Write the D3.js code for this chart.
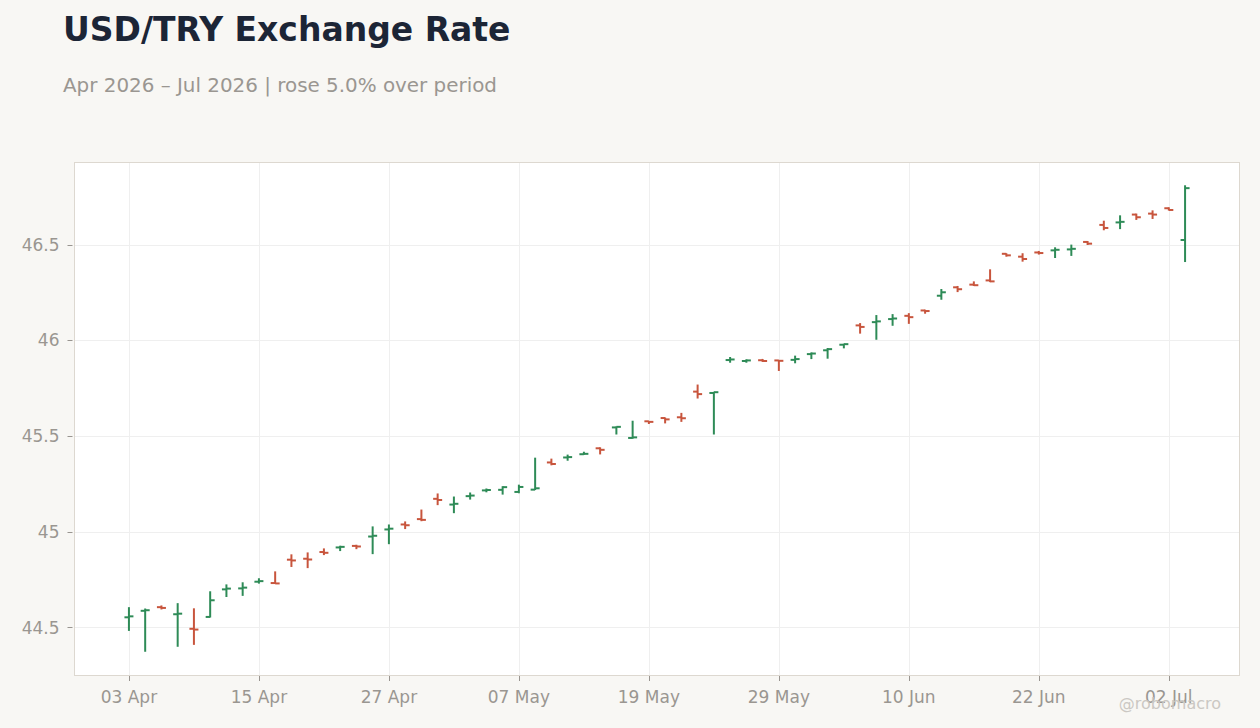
<!DOCTYPE html>
<html>
<head>
<meta charset="utf-8">
<script src="https://cdn.jsdelivr.net/npm/d3@7"></script>
<style>
  body { margin: 0; background: #f8f7f4; }
  svg { display: block; font-family: "DejaVu Sans", sans-serif; }
</style>
</head>
<body>
<svg id="chart"></svg>
<script>
var width = 1260
var height = 728

var dates = [
  "2026-04-03", "2026-04-06", "2026-04-07", "2026-04-08", "2026-04-09", "2026-04-10",
  "2026-04-13", "2026-04-14", "2026-04-15", "2026-04-16", "2026-04-17",
  "2026-04-20", "2026-04-21", "2026-04-22", "2026-04-23", "2026-04-24",
  "2026-04-27", "2026-04-28", "2026-04-29", "2026-04-30", "2026-05-01",
  "2026-05-04", "2026-05-05", "2026-05-06", "2026-05-07", "2026-05-08",
  "2026-05-11", "2026-05-12", "2026-05-13", "2026-05-14", "2026-05-15",
  "2026-05-18", "2026-05-19", "2026-05-20", "2026-05-21", "2026-05-22",
  "2026-05-25", "2026-05-26", "2026-05-27", "2026-05-28", "2026-05-29",
  "2026-06-01", "2026-06-02", "2026-06-03", "2026-06-04", "2026-06-05",
  "2026-06-08", "2026-06-09", "2026-06-10", "2026-06-11", "2026-06-12",
  "2026-06-15", "2026-06-16", "2026-06-17", "2026-06-18", "2026-06-19",
  "2026-06-22", "2026-06-23", "2026-06-24", "2026-06-25", "2026-06-26",
  "2026-06-29", "2026-06-30", "2026-07-01", "2026-07-02", "2026-07-03"
]

var opens = [
  44.553, 44.587, 44.606, 44.569, 44.493, 44.555, 44.699, 44.704, 44.739, 44.732, 44.854,
  44.859, 44.894, 44.918, 44.926, 44.975, 45.012, 45.038, 45.066, 45.172, 45.142,
  45.186, 45.216, 45.219, 45.208, 45.220, 45.362, 45.388, 45.405, 45.436, 45.545,
  45.490, 45.577, 45.594, 45.598, 45.732, 45.725, 45.897, 45.892, 45.896, 45.895,
  45.898, 45.928, 45.948, 45.977, 46.078, 46.095, 46.111, 46.128, 46.156, 46.233,
  46.277, 46.291, 46.313, 46.452, 46.437, 46.459, 46.470, 46.475, 46.514, 46.603,
  46.616, 46.657, 46.662, 46.690, 46.524
]
var highs = [
  44.606, 44.599, 44.615, 44.627, 44.600, 44.689, 44.725, 44.736, 44.757, 44.793, 44.882,
  44.892, 44.913, 44.927, 44.932, 45.028, 45.038, 45.054, 45.116, 45.200, 45.184,
  45.205, 45.226, 45.238, 45.246, 45.387, 45.382, 45.403, 45.418, 45.441, 45.550,
  45.580, 45.578, 45.597, 45.621, 45.769, 45.731, 45.913, 45.901, 45.903, 45.897,
  45.920, 45.937, 45.960, 45.982, 46.090, 46.132, 46.137, 46.142, 46.160, 46.268,
  46.284, 46.308, 46.371, 46.455, 46.455, 46.467, 46.486, 46.500, 46.519, 46.625,
  46.653, 46.662, 46.679, 46.695, 46.810
]
var lows = [
  44.482, 44.373, 44.594, 44.399, 44.409, 44.552, 44.659, 44.665, 44.729, 44.728, 44.816,
  44.810, 44.878, 44.899, 44.909, 44.883, 44.935, 45.014, 45.055, 45.139, 45.097,
  45.168, 45.206, 45.194, 45.201, 45.218, 45.347, 45.371, 45.402, 45.404, 45.508,
  45.486, 45.563, 45.566, 45.574, 45.696, 45.508, 45.883, 45.883, 45.887, 45.840,
  45.880, 45.902, 45.904, 45.958, 46.035, 46.003, 46.076, 46.086, 46.139, 46.212,
  46.252, 46.284, 46.304, 46.437, 46.411, 46.448, 46.430, 46.441, 46.498, 46.575,
  46.581, 46.629, 46.634, 46.678, 46.409
]
var closes = [
  44.558, 44.590, 44.602, 44.572, 44.489, 44.642, 44.703, 44.708, 44.742, 44.730, 44.850,
  44.855, 44.890, 44.921, 44.923, 44.979, 45.016, 45.034, 45.062, 45.166, 45.146,
  45.189, 45.218, 45.233, 45.234, 45.227, 45.354, 45.390, 45.407, 45.428, 45.548,
  45.493, 45.574, 45.587, 45.593, 45.719, 45.729, 45.900, 45.895, 45.892, 45.893,
  45.902, 45.931, 45.954, 45.980, 46.070, 46.099, 46.114, 46.121, 46.153, 46.251,
  46.267, 46.288, 46.308, 46.444, 46.425, 46.456, 46.473, 46.478, 46.505, 46.587,
  46.619, 46.643, 46.657, 46.681, 46.795
]

var yTicks = [44.5, 45, 45.5, 46, 46.5]
var xTickIdx = [0, 8, 16, 24, 32, 40, 48, 56, 64]

var upColor = "#2e8b57"
var downColor = "#c8553d"

var parse = d3.timeParse("%Y-%m-%d")
var fmt = d3.timeFormat("%d %b")

var bars = dates.map(function(d, i) {
  return {date: parse(d), i: i, o: opens[i], h: highs[i], l: lows[i], c: closes[i]}
})

var plotLeft = 74.5, plotRight = 1239.5, plotTop = 162.5, plotBottom = 675.5

var x = d3.scaleLinear()
  .domain([-3.35, bars.length - 1 + 3.35])
  .range([plotLeft, plotRight])

var y = d3.scaleLinear()
  .domain([44.249, 46.929])
  .range([plotBottom, plotTop])

var svg = d3.select("#chart")
  .attr("width", width)
  .attr("height", height)

svg.append("rect")
  .attr("width", width)
  .attr("height", height)
  .attr("fill", "#f8f7f4")

svg.append("text")
  .attr("x", 63)
  .attr("y", 40.5)
  .attr("fill", "#1c2536")
  .attr("font-size", 33)
  .attr("font-weight", "bold")
  .text("USD/TRY Exchange Rate")

svg.append("text")
  .attr("x", 63)
  .attr("y", 91.5)
  .attr("fill", "#9a9691")
  .attr("font-size", 19.9)
  .text("Apr 2026 \u2013 Jul 2026 | rose 5.0% over period")

svg.append("rect")
  .attr("x", plotLeft)
  .attr("y", plotTop)
  .attr("width", plotRight - plotLeft)
  .attr("height", plotBottom - plotTop)
  .attr("fill", "#ffffff")

// grid
svg.append("g")
  .selectAll("line")
  .data(yTicks)
  .join("line")
  .attr("x1", plotLeft)
  .attr("x2", plotRight)
  .attr("y1", function(d) { return Math.round(y(d)) + 0.5 })
  .attr("y2", function(d) { return Math.round(y(d)) + 0.5 })
  .attr("stroke", "#efefef")

svg.append("g")
  .selectAll("line")
  .data(xTickIdx)
  .join("line")
  .attr("x1", function(d) { return Math.round(x(d)) + 0.5 })
  .attr("x2", function(d) { return Math.round(x(d)) + 0.5 })
  .attr("y1", plotTop)
  .attr("y2", plotBottom)
  .attr("stroke", "#efefef")

svg.append("rect")
  .attr("x", plotLeft)
  .attr("y", plotTop)
  .attr("width", plotRight - plotLeft)
  .attr("height", plotBottom - plotTop)
  .attr("fill", "none")
  .attr("stroke", "#ddd8d0")

// axes
var yAxis = svg.append("g")
yAxis.selectAll("line")
  .data(yTicks)
  .join("line")
  .attr("x1", 67.5)
  .attr("x2", 72.5)
  .attr("y1", function(d) { return Math.round(y(d)) + 0.5 })
  .attr("y2", function(d) { return Math.round(y(d)) + 0.5 })
  .attr("stroke", "#999590")
yAxis.selectAll("text")
  .data(yTicks)
  .join("text")
  .attr("x", 59.5)
  .attr("y", function(d) { return y(d) })
  .attr("dy", "0.36em")
  .attr("text-anchor", "end")
  .attr("fill", "#9a9691")
  .attr("font-size", 17)
  .text(function(d) { return String(d) })

var xAxis = svg.append("g")
xAxis.selectAll("line")
  .data(xTickIdx)
  .join("line")
  .attr("x1", function(d) { return Math.round(x(d)) + 0.5 })
  .attr("x2", function(d) { return Math.round(x(d)) + 0.5 })
  .attr("y1", plotBottom + 0.5)
  .attr("y2", plotBottom + 5.5)
  .attr("stroke", "#999590")
xAxis.selectAll("text")
  .data(xTickIdx)
  .join("text")
  .attr("x", function(d) { return x(d) })
  .attr("y", 702.5)
  .attr("text-anchor", "middle")
  .attr("fill", "#9a9691")
  .attr("font-size", 17)
  .text(function(d) { return fmt(bars[d].date) })

// ohlc bars
var tick = 3.5
var g = svg.append("g")
  .attr("stroke-width", 2)

var bar = g.selectAll("g")
  .data(bars)
  .join("g")
  .attr("stroke", function(d) { return d.c >= d.o ? upColor : downColor })

bar.append("line")
  .attr("x1", function(d) { return x(d.i) })
  .attr("x2", function(d) { return x(d.i) })
  .attr("y1", function(d) { return y(d.h) })
  .attr("y2", function(d) { return y(d.l) })

bar.append("line")
  .attr("x1", function(d) { return x(d.i) - tick - 1 })
  .attr("x2", function(d) { return x(d.i) })
  .attr("y1", function(d) { return y(d.o) })
  .attr("y2", function(d) { return y(d.o) })

bar.append("line")
  .attr("x1", function(d) { return x(d.i) })
  .attr("x2", function(d) { return x(d.i) + tick + 1 })
  .attr("y1", function(d) { return y(d.c) })
  .attr("y2", function(d) { return y(d.c) })

svg.append("text")
  .attr("x", 1221)
  .attr("y", 709)
  .attr("text-anchor", "end")
  .attr("fill", "#cbc8c3")
  .attr("font-size", 16)
  .text("@robomacro")
</script>
</body>
</html>
